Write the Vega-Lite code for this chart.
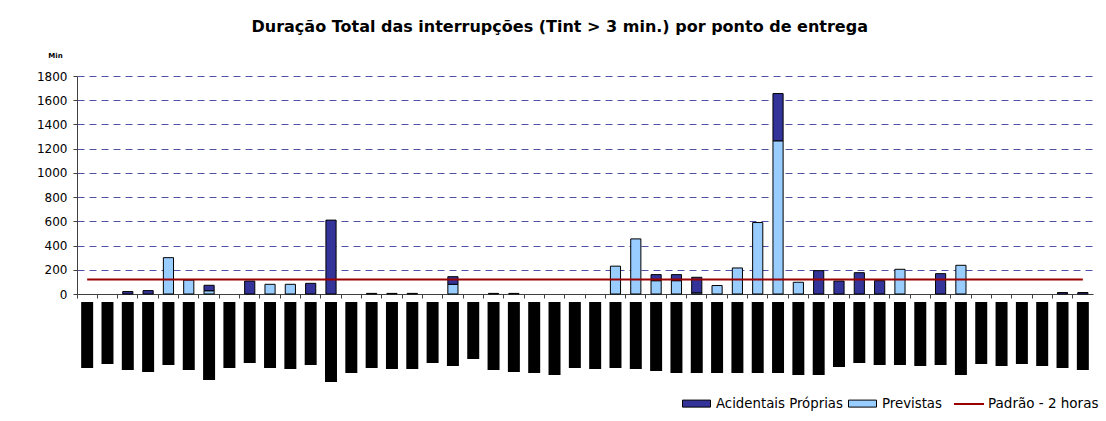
{
  "$schema": "https://vega.github.io/schema/vega-lite/v6.json",
  "background": "white",
  "padding": {"left": 36, "top": 19, "right": 0, "bottom": 0},
  "title": {"text": "Duração Total das interrupções (Tint > 3 min.) por ponto de entrega", "font": "DejaVu Sans", "fontSize": 16, "fontWeight": "bold", "anchor": "middle", "color": "black", "offset": 16, "dx": -8},
  "config": {"view": {"stroke": null}, "font": "DejaVu Sans"},
  "spacing": 2,
  "datasets": {
    "bars": [
      {"cat": "P03", "serie": "Acidentais Próprias", "value": 20},
      {"cat": "P04", "serie": "Acidentais Próprias", "value": 28},
      {"cat": "P05", "serie": "Previstas", "value": 300},
      {"cat": "P06", "serie": "Previstas", "value": 115},
      {"cat": "P07", "serie": "Previstas", "value": 27},
      {"cat": "P07", "serie": "Acidentais Próprias", "value": 45},
      {"cat": "P09", "serie": "Acidentais Próprias", "value": 107},
      {"cat": "P10", "serie": "Previstas", "value": 80},
      {"cat": "P11", "serie": "Previstas", "value": 80},
      {"cat": "P12", "serie": "Acidentais Próprias", "value": 88},
      {"cat": "P13", "serie": "Acidentais Próprias", "value": 610},
      {"cat": "P15", "serie": "Acidentais Próprias", "value": 5},
      {"cat": "P16", "serie": "Acidentais Próprias", "value": 5},
      {"cat": "P17", "serie": "Acidentais Próprias", "value": 5},
      {"cat": "P19", "serie": "Previstas", "value": 80},
      {"cat": "P19", "serie": "Acidentais Próprias", "value": 63},
      {"cat": "P21", "serie": "Acidentais Próprias", "value": 5},
      {"cat": "P22", "serie": "Acidentais Próprias", "value": 5},
      {"cat": "P27", "serie": "Previstas", "value": 230},
      {"cat": "P28", "serie": "Previstas", "value": 455},
      {"cat": "P29", "serie": "Previstas", "value": 110},
      {"cat": "P29", "serie": "Acidentais Próprias", "value": 50},
      {"cat": "P30", "serie": "Previstas", "value": 110},
      {"cat": "P30", "serie": "Acidentais Próprias", "value": 50},
      {"cat": "P31", "serie": "Previstas", "value": 10},
      {"cat": "P31", "serie": "Acidentais Próprias", "value": 128},
      {"cat": "P32", "serie": "Previstas", "value": 70},
      {"cat": "P33", "serie": "Previstas", "value": 215},
      {"cat": "P34", "serie": "Previstas", "value": 590},
      {"cat": "P35", "serie": "Previstas", "value": 1265},
      {"cat": "P35", "serie": "Acidentais Próprias", "value": 390},
      {"cat": "P36", "serie": "Previstas", "value": 97},
      {"cat": "P37", "serie": "Acidentais Próprias", "value": 193},
      {"cat": "P38", "serie": "Acidentais Próprias", "value": 107},
      {"cat": "P39", "serie": "Acidentais Próprias", "value": 176},
      {"cat": "P40", "serie": "Acidentais Próprias", "value": 110},
      {"cat": "P41", "serie": "Previstas", "value": 204},
      {"cat": "P43", "serie": "Acidentais Próprias", "value": 168},
      {"cat": "P44", "serie": "Previstas", "value": 237},
      {"cat": "P49", "serie": "Acidentais Próprias", "value": 12},
      {"cat": "P50", "serie": "Acidentais Próprias", "value": 12}
    ],
    "cats": [
      {"cat": "P01", "len": 66, "pad": 120, "padrao": "Padrão - 2 horas"},
      {"cat": "P02", "len": 62, "pad": 120, "padrao": "Padrão - 2 horas"},
      {"cat": "P03", "len": 68, "pad": 120, "padrao": "Padrão - 2 horas"},
      {"cat": "P04", "len": 70, "pad": 120, "padrao": "Padrão - 2 horas"},
      {"cat": "P05", "len": 63, "pad": 120, "padrao": "Padrão - 2 horas"},
      {"cat": "P06", "len": 68, "pad": 120, "padrao": "Padrão - 2 horas"},
      {"cat": "P07", "len": 78, "pad": 120, "padrao": "Padrão - 2 horas"},
      {"cat": "P08", "len": 66, "pad": 120, "padrao": "Padrão - 2 horas"},
      {"cat": "P09", "len": 61, "pad": 120, "padrao": "Padrão - 2 horas"},
      {"cat": "P10", "len": 66, "pad": 120, "padrao": "Padrão - 2 horas"},
      {"cat": "P11", "len": 67, "pad": 120, "padrao": "Padrão - 2 horas"},
      {"cat": "P12", "len": 63, "pad": 120, "padrao": "Padrão - 2 horas"},
      {"cat": "P13", "len": 80, "pad": 120, "padrao": "Padrão - 2 horas"},
      {"cat": "P14", "len": 71, "pad": 120, "padrao": "Padrão - 2 horas"},
      {"cat": "P15", "len": 66, "pad": 120, "padrao": "Padrão - 2 horas"},
      {"cat": "P16", "len": 67, "pad": 120, "padrao": "Padrão - 2 horas"},
      {"cat": "P17", "len": 67, "pad": 120, "padrao": "Padrão - 2 horas"},
      {"cat": "P18", "len": 61, "pad": 120, "padrao": "Padrão - 2 horas"},
      {"cat": "P19", "len": 64, "pad": 120, "padrao": "Padrão - 2 horas"},
      {"cat": "P20", "len": 57, "pad": 120, "padrao": "Padrão - 2 horas"},
      {"cat": "P21", "len": 68, "pad": 120, "padrao": "Padrão - 2 horas"},
      {"cat": "P22", "len": 70, "pad": 120, "padrao": "Padrão - 2 horas"},
      {"cat": "P23", "len": 71, "pad": 120, "padrao": "Padrão - 2 horas"},
      {"cat": "P24", "len": 73, "pad": 120, "padrao": "Padrão - 2 horas"},
      {"cat": "P25", "len": 66, "pad": 120, "padrao": "Padrão - 2 horas"},
      {"cat": "P26", "len": 67, "pad": 120, "padrao": "Padrão - 2 horas"},
      {"cat": "P27", "len": 66, "pad": 120, "padrao": "Padrão - 2 horas"},
      {"cat": "P28", "len": 67, "pad": 120, "padrao": "Padrão - 2 horas"},
      {"cat": "P29", "len": 69, "pad": 120, "padrao": "Padrão - 2 horas"},
      {"cat": "P30", "len": 71, "pad": 120, "padrao": "Padrão - 2 horas"},
      {"cat": "P31", "len": 71, "pad": 120, "padrao": "Padrão - 2 horas"},
      {"cat": "P32", "len": 71, "pad": 120, "padrao": "Padrão - 2 horas"},
      {"cat": "P33", "len": 71, "pad": 120, "padrao": "Padrão - 2 horas"},
      {"cat": "P34", "len": 71, "pad": 120, "padrao": "Padrão - 2 horas"},
      {"cat": "P35", "len": 71, "pad": 120, "padrao": "Padrão - 2 horas"},
      {"cat": "P36", "len": 73, "pad": 120, "padrao": "Padrão - 2 horas"},
      {"cat": "P37", "len": 73, "pad": 120, "padrao": "Padrão - 2 horas"},
      {"cat": "P38", "len": 65, "pad": 120, "padrao": "Padrão - 2 horas"},
      {"cat": "P39", "len": 61, "pad": 120, "padrao": "Padrão - 2 horas"},
      {"cat": "P40", "len": 63, "pad": 120, "padrao": "Padrão - 2 horas"},
      {"cat": "P41", "len": 63, "pad": 120, "padrao": "Padrão - 2 horas"},
      {"cat": "P42", "len": 64, "pad": 120, "padrao": "Padrão - 2 horas"},
      {"cat": "P43", "len": 63, "pad": 120, "padrao": "Padrão - 2 horas"},
      {"cat": "P44", "len": 73, "pad": 120, "padrao": "Padrão - 2 horas"},
      {"cat": "P45", "len": 62, "pad": 120, "padrao": "Padrão - 2 horas"},
      {"cat": "P46", "len": 64, "pad": 120, "padrao": "Padrão - 2 horas"},
      {"cat": "P47", "len": 62, "pad": 120, "padrao": "Padrão - 2 horas"},
      {"cat": "P48", "len": 64, "pad": 120, "padrao": "Padrão - 2 horas"},
      {"cat": "P49", "len": 66, "pad": 120, "padrao": "Padrão - 2 horas"},
      {"cat": "P50", "len": 68, "pad": 120, "padrao": "Padrão - 2 horas"}
    ]
  },
  "vconcat": [
    {
      "width": 1016,
      "height": 218,
      "layer": [
        {
          "data": {"name": "bars"},
          "mark": {"type": "bar", "width": {"band": 0.5}, "stroke": "black", "strokeWidth": 1},
          "encoding": {
            "x": {"field": "cat", "type": "nominal", "sort": "ascending", "scale": {"padding": 0},
              "axis": {"labels": false, "title": null, "bandPosition": 0, "domainColor": "#404040", "tickColor": "#404040", "tickSize": 4, "grid": false}},
            "y": {"field": "value", "type": "quantitative", "stack": "zero", "scale": {"domain": [0, 1800], "nice": false},
              "axis": {"values": [0, 200, 400, 600, 800, 1000, 1200, 1400, 1600, 1800], "format": "d", "labelOverlap": false, "title": "Min", "titleAngle": 0, "titleX": -22, "titleY": -21, "titleAlign": "center", "titleBaseline": "middle", "titleFontSize": 7, "titleFontWeight": "bold", "titleColor": "black", "labelFontSize": 12, "labelColor": "black", "labelPadding": 6, "domainColor": "#404040", "tickColor": "#404040", "tickSize": 4, "grid": true, "gridColor": "#333399", "gridOpacity": 0.85, "gridDash": [7, 5], "gridWidth": 1}},
            "fill": {"field": "serie", "type": "nominal",
              "scale": {"domain": ["Acidentais Próprias", "Previstas"], "range": ["#333399", "#99CCFF"]},
              "legend": {"title": null, "orient": "none", "direction": "horizontal", "legendX": 612, "legendY": 320, "symbolType": "M-2,-0.5L2,-0.5L2,0.5L-2,0.5Z", "symbolSize": 196, "symbolStrokeColor": "black", "symbolStrokeWidth": 1, "labelOffset": 12, "labelFontSize": 13.3, "labelColor": "black", "columnPadding": 3}},
            "order": {"field": "serie", "sort": "descending"}
          }
        },
        {
          "data": {"name": "cats"},
          "mark": {"type": "line", "strokeWidth": 2},
          "encoding": {
            "x": {"field": "cat", "type": "nominal", "sort": "ascending"},
            "y": {"field": "pad", "type": "quantitative",
              "axis": {"values": [0, 200, 400, 600, 800, 1000, 1200, 1400, 1600, 1800], "format": "d", "labelOverlap": false, "title": "Min", "titleAngle": 0, "titleX": -22, "titleY": -21, "titleAlign": "center", "titleBaseline": "middle", "titleFontSize": 7, "titleFontWeight": "bold", "titleColor": "black", "labelFontSize": 12, "labelColor": "black", "labelPadding": 6, "domainColor": "#404040", "tickColor": "#404040", "tickSize": 4, "grid": true, "gridColor": "#333399", "gridOpacity": 0.85, "gridDash": [7, 5], "gridWidth": 1}},
            "stroke": {"field": "padrao", "type": "nominal",
              "scale": {"domain": ["Padrão - 2 horas"], "range": ["#990000"]},
              "legend": {"title": null, "orient": "none", "legendX": 876, "legendY": 312, "symbolType": "stroke", "symbolSize": 900, "symbolStrokeWidth": 2, "labelOffset": 3, "labelFontSize": 13.5, "labelColor": "black"}}
          }
        }
      ]
    },
    {
      "width": 1016,
      "height": 80,
      "data": {"name": "cats"},
      "mark": {"type": "bar", "color": "black", "width": {"band": 0.59}},
      "encoding": {
        "x": {"field": "cat", "type": "nominal", "sort": "ascending", "scale": {"padding": 0}, "axis": null},
        "y": {"field": "len", "type": "quantitative", "scale": {"domain": [0, 80], "reverse": true, "nice": false}, "axis": null}
      }
    }
  ]
}
